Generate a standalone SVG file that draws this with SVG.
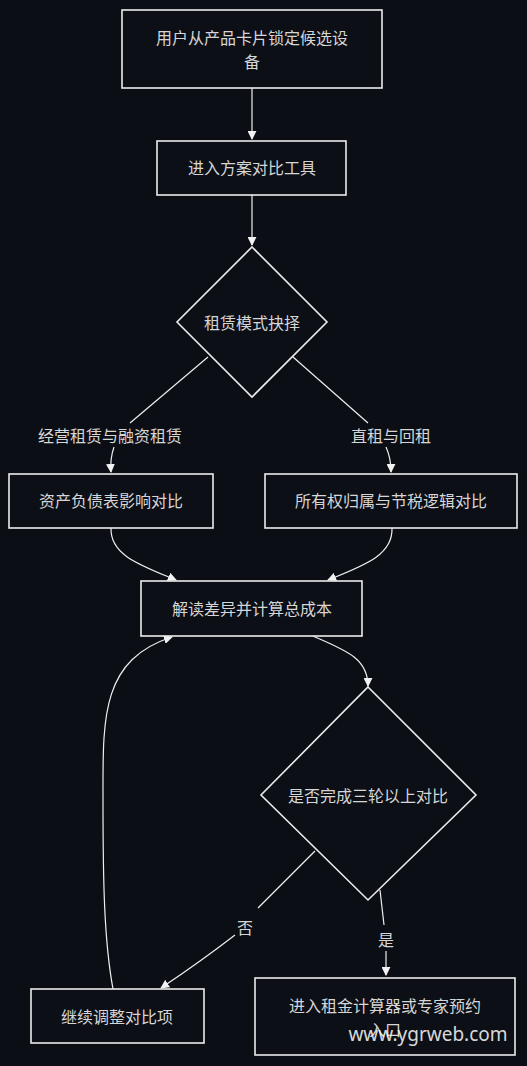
<svg xmlns="http://www.w3.org/2000/svg" width="527" height="1066" viewBox="0 0 527 1066">
<defs>
<marker id="ah" viewBox="0 0 10 10" refX="9" refY="5" markerWidth="9" markerHeight="9" markerUnits="userSpaceOnUse" orient="auto">
<path d="M0,0 L10,5 L0,10 z" fill="#f2f2f2"/>
</marker>
<style>
.n{fill:#0c0f16;stroke:#ececec;stroke-width:1.6}
.t{font-family:"Noto Sans CJK SC","Noto Sans",sans-serif;font-size:16px;fill:#d6d6d6;text-anchor:middle;dominant-baseline:central}
.e{fill:none;stroke:#efefef;stroke-width:1.2}
.l{font-family:"Noto Sans CJK SC","Noto Sans",sans-serif;font-size:16px;fill:#d6d6d6;text-anchor:middle;dominant-baseline:central}
</style>
</defs>
<rect width="527" height="1066" fill="#0b0e14"/>
<g id="connectors">
<path class="e" d="M252,88 L252,139" marker-end="url(#ah)"/>
<path class="e" d="M252,195 L252,245" marker-end="url(#ah)"/>
<path class="e" d="M208,357 L130,423"/>
<path class="e" d="M114,447 Q110,458 111,472" marker-end="url(#ah)"/>
<path class="e" d="M293,357 L368,423"/>
<path class="e" d="M386,447 Q391,458 391,472" marker-end="url(#ah)"/>
<path class="e" d="M111,528 C110,555 140,565 176,580" marker-end="url(#ah)"/>
<path class="e" d="M392,528 C393,555 365,565 328,580" marker-end="url(#ah)"/>
<path class="e" d="M313,636 C345,650 368,658 368,686" marker-end="url(#ah)"/>
<path class="e" d="M315,851 L258,908"/>
<path class="e" d="M235,935 Q200,962 161,988" marker-end="url(#ah)"/>
<path class="e" d="M380,890 L384,925"/>
<path class="e" d="M386,951 L386,975" marker-end="url(#ah)"/>
<path class="e" d="M113,989 C104,940 103,880 103,800 C103,720 100,660 172,637" marker-end="url(#ah)"/>
<text class="l" x="110" y="435">经营租赁与融资租赁</text>
<text class="l" x="391" y="435">直租与回租</text>
<text class="l" x="245" y="927">否</text>
<text class="l" x="386" y="939">是</text>
</g>
<g id="n1"><rect class="n" x="122" y="10" width="260" height="78"/><text class="t" x="252" y="37">用户从产品卡片锁定候选设</text><text class="t" x="252" y="61">备</text></g>
<g id="n2"><rect class="n" x="157" y="141" width="189" height="54"/><text class="t" x="252" y="167">进入方案对比工具</text></g>
<g id="d1"><polygon class="n" points="252,247 327,322 252,397 177,322"/><text class="t" x="252" y="322">租赁模式抉择</text></g>
<g id="n3"><rect class="n" x="9" y="474" width="204" height="54"/><text class="t" x="111" y="500">资产负债表影响对比</text></g>
<g id="n4"><rect class="n" x="265" y="474" width="252" height="54"/><text class="t" x="391" y="500">所有权归属与节税逻辑对比</text></g>
<g id="n5"><rect class="n" x="141" y="581" width="221" height="55"/><text class="t" x="252" y="608">解读差异并计算总成本</text></g>
<g id="d2"><polygon class="n" points="368,687 476,795 368,900 261,795"/><text class="t" x="368" y="795">是否完成三轮以上对比</text></g>
<g id="n6"><rect class="n" x="31" y="989" width="173" height="54"/><text class="t" x="117" y="1016">继续调整对比项</text></g>
<g id="n7"><rect class="n" x="255" y="978" width="260" height="77"/><text class="t" x="385" y="1005">进入租金计算器或专家预约</text><text class="t" x="385" y="1029">入口</text></g>
<text x="428" y="1034" font-family="'Noto Sans','DejaVu Sans',sans-serif" font-size="19" fill="#ffffff" fill-opacity="0.85" text-anchor="middle" dominant-baseline="central">www.ygrweb.com</text>
</svg>
